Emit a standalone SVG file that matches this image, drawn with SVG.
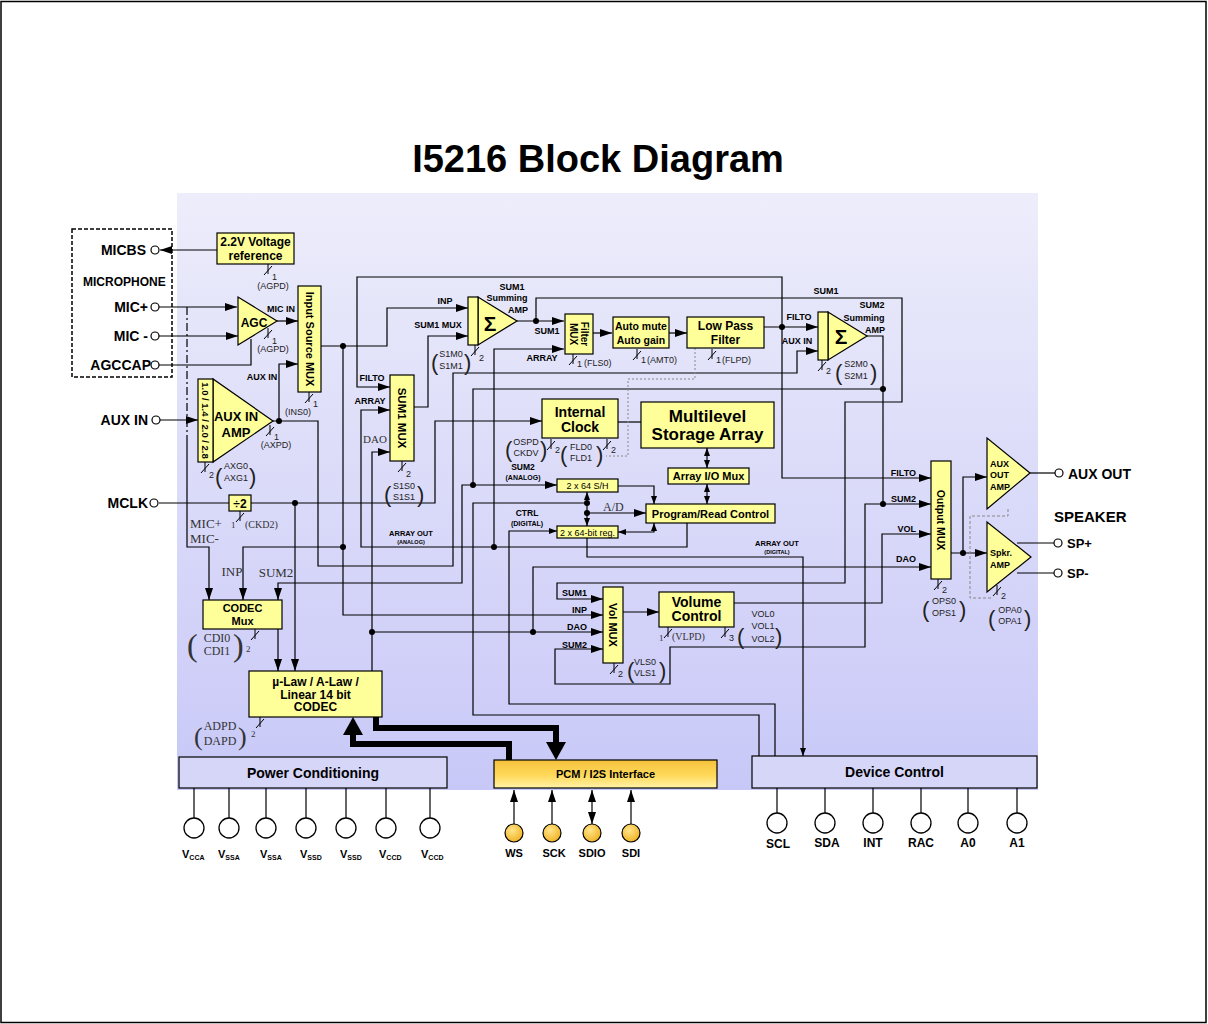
<svg xmlns="http://www.w3.org/2000/svg" width="1208" height="1024" viewBox="0 0 1208 1024">
<style>
.L{font-family:"Liberation Sans",Arial,sans-serif;font-weight:bold;fill:#000}
.n{font-family:"Liberation Sans",Arial,sans-serif;font-size:9px;fill:#222}
.p{font-family:"Liberation Sans",Arial,sans-serif;font-size:22px;fill:#222}
.sf{font-family:"Liberation Serif","Times New Roman",serif;fill:#333}
.box{fill:#ffff99;stroke:#000;stroke-width:1.2}
.w{fill:none;stroke:#000;stroke-width:1.2}
.pin{fill:#fff;stroke:#000;stroke-width:1.2}
.big{fill:#fff;stroke:#000;stroke-width:1.3}
</style>
<defs>
<linearGradient id="bg" x1="0" y1="0" x2="0" y2="1">
<stop offset="0" stop-color="#ededfb"/>
<stop offset="1" stop-color="#c8c8f8"/>
</linearGradient>
<linearGradient id="pcm" x1="0" y1="0" x2="0" y2="1">
<stop offset="0" stop-color="#f4c23c"/>
<stop offset="0.55" stop-color="#ffd95a"/>
<stop offset="1" stop-color="#fff2a8"/>
</linearGradient>
<radialGradient id="pg" cx="0.4" cy="0.35" r="0.7">
<stop offset="0" stop-color="#ffe58a"/>
<stop offset="1" stop-color="#f0b020"/>
</radialGradient>
<marker id="a" viewBox="0 0 12 8" refX="12" refY="4" markerWidth="12" markerHeight="8" markerUnits="userSpaceOnUse" orient="auto-start-reverse"><path d="M0,0L12,4L0,8z"/></marker>
<marker id="b" viewBox="0 0 8 6" refX="8" refY="3" markerWidth="8" markerHeight="6" markerUnits="userSpaceOnUse" orient="auto-start-reverse"><path d="M0,0L8,3L0,6z"/></marker>
<path id="bus" d="M0,-6V4M-4,5L4,-4" fill="none" stroke="#000" stroke-width="1"/>
</defs>

<rect x="0" y="0" width="1208" height="1024" fill="#fff"/>
<rect x="1" y="1.5" width="1205" height="1021" fill="none" stroke="#000" stroke-width="1.5"/>
<rect x="177" y="193" width="861" height="597" fill="url(#bg)"/>

<text class="L" x="598" y="172" font-size="38" text-anchor="middle">I5216 Block Diagram</text>

<g id="connectors">
<g class="w">
<path d="M217,250H160" marker-end="url(#a)"/>
<path d="M159,307H237" marker-end="url(#a)"/>
<path d="M159,336H238" marker-end="url(#a)"/>
<path d="M159,365H251V339"/>
<path d="M277,321H298" marker-end="url(#a)"/>
<path d="M160,420H198" marker-end="url(#a)"/>
<path d="M273,421H318V566H453V373H797V351H818" marker-end="url(#a)"/>
<path d="M279,421V364H298" marker-end="url(#a)"/>
<path d="M321,346H387V308H468" marker-end="url(#a)"/>
<path d="M343,346V615H603" marker-end="url(#a)"/>
<path d="M343,547H243V600" marker-end="url(#a)"/>
<path d="M187,307V440" stroke-dasharray="8,3,2,3"/>
<path d="M187,440V547H209V600" marker-end="url(#a)"/>
<path d="M414,407H428V336H468" marker-end="url(#a)"/>
<path d="M517,321H564" marker-end="url(#a)"/>
<path d="M536,321V298H902V402H845V583H557V599H603" marker-end="url(#a)"/>
<path d="M687,523V547H361V410H390" marker-end="url(#a)"/>
<path d="M494,547V349H564" marker-end="url(#a)"/>
<path d="M593,333H612" marker-end="url(#a)"/>
<path d="M669,333H687" marker-end="url(#a)"/>
<path d="M764,327H818" marker-end="url(#a)"/>
<path d="M782,327V277H357V387H390" marker-end="url(#a)"/>
<path d="M782,327V478H931" marker-end="url(#a)"/>
<path d="M867,336H883V504H931" marker-end="url(#a)"/>
<path d="M883,389H473V485H557" marker-end="url(#a)"/>
<path d="M473,485H462V583H278V600" marker-end="url(#a)"/>
<path d="M883,504H865V647H670V684H555V649H603" marker-end="url(#a)"/>
<path d="M159,503H229"/>
<path d="M251,503H435V421H542" marker-end="url(#a)"/>
<path d="M295,503V671" marker-end="url(#a)"/>
<path d="M278,629V671" marker-end="url(#a)"/>
<path d="M372,671V452H390" marker-end="url(#a)"/>
<path d="M372,632H603" marker-end="url(#a)"/>
<path d="M533,632V567H931" marker-end="url(#a)"/>
<path d="M618,422H641"/>
<path d="M707,448V468" marker-start="url(#b)" marker-end="url(#b)"/>
<path d="M707,484V504" marker-start="url(#b)" marker-end="url(#b)"/>
<path d="M618,486H654V504" marker-end="url(#b)"/>
<path d="M618,532H654V523" marker-start="url(#b)" marker-end="url(#b)"/>
<path d="M587,492V526" marker-start="url(#b)" marker-end="url(#b)"/>
<path d="M587,513H646" marker-end="url(#a)"/>
<path d="M587,503H473V715H759V756"/>
<path d="M775,756V704H509V531H557" marker-end="url(#b)"/>
<path d="M587,538V557H803V756" marker-end="url(#b)"/>
<path d="M734,603H882V534H931" marker-end="url(#a)"/>
<path d="M623,612H659" marker-end="url(#a)"/>
<path d="M951,553H987" marker-end="url(#a)"/>
<path d="M963,553V477H987" marker-end="url(#a)"/>
<path d="M1030,473H1055"/>
<path d="M1017,543H1054"/>
<path d="M1017,573H1054"/>
<path d="M514,824V790" marker-end="url(#a)"/>
<path d="M552,824V790" marker-end="url(#a)"/>
<path d="M592,824V790" marker-start="url(#a)" marker-end="url(#a)"/>
<path d="M631,824V790" marker-end="url(#a)"/>
<path d="M194,788V818M229,788V818M266,788V818M306,788V818M346,788V818M386,788V818M430,788V818"/>
<path d="M777,788V813M825,788V813M873,788V813M921,788V813M968,788V813M1017,788V813"/>
</g>
<path d="M1008,509V516H970V598H993" fill="none" stroke="#888" stroke-width="1" stroke-dasharray="3,2"/>
<path d="M695,348V379H628V456H606" fill="none" stroke="#888" stroke-width="1" stroke-dasharray="2,2"/>
<path d="M376,717V728H556V744M509,760V744H353V733" fill="none" stroke="#000" stroke-width="6"/>
<path d="M546,742L566,742L556,760z"/>
<path d="M343,735L363,735L353,717z"/>
<g fill="#000">
<circle cx="279" cy="421" r="3"/><circle cx="343" cy="346" r="3"/><circle cx="343" cy="547" r="3"/>
<circle cx="536" cy="321" r="3"/><circle cx="494" cy="547" r="3"/><circle cx="782" cy="327" r="3"/>
<circle cx="883" cy="389" r="3"/><circle cx="883" cy="504" r="3"/><circle cx="473" cy="485" r="3"/>
<circle cx="295" cy="503" r="3"/><circle cx="372" cy="632" r="3"/><circle cx="533" cy="632" r="3"/>
<circle cx="587" cy="503" r="3"/><circle cx="587" cy="513" r="3"/><circle cx="963" cy="553" r="3"/>
</g>
</g>

<g id="microphone">
<rect x="72" y="229" width="100" height="148" fill="none" stroke="#000" stroke-width="1.5" stroke-dasharray="4,2"/>
<text class="L" x="146" y="255" font-size="14" text-anchor="end">MICBS</text>
<text class="L" x="83" y="286" font-size="12">MICROPHONE</text>
<text class="L" x="148" y="312" font-size="14" text-anchor="end">MIC+</text>
<text class="L" x="148" y="341" font-size="14" text-anchor="end">MIC -</text>
<text class="L" x="151" y="370" font-size="14" text-anchor="end">AGCCAP</text>
<circle class="pin" cx="155" cy="250" r="4"/>
<circle class="pin" cx="155" cy="307" r="4"/>
<circle class="pin" cx="155" cy="336" r="4"/>
<circle class="pin" cx="155" cy="365" r="4"/>
</g>

<g id="auxin-pin">
<text class="L" x="148" y="425" font-size="14" text-anchor="end">AUX IN</text>
<circle class="pin" cx="156" cy="420" r="4"/>
</g>
<g id="mclk-pin">
<text class="L" x="148" y="508" font-size="14" text-anchor="end">MCLK</text>
<circle class="pin" cx="154" cy="503" r="4"/>
</g>

<g id="vref">
<rect class="box" x="217" y="233" width="77" height="31"/>
<text class="L" x="255.5" y="246" font-size="12" text-anchor="middle">2.2V Voltage</text>
<text class="L" x="255.5" y="260" font-size="12" text-anchor="middle">reference</text>
<use href="#bus" x="268" y="270"/>
<text class="n" x="272" y="280" font-size="8">1</text>
<text class="n" x="273" y="289" text-anchor="middle">(AGPD)</text>
</g>

<g id="agc">
<polygon class="box" points="238,297 238,345 277,321"/>
<text class="L" x="254" y="327" font-size="12" text-anchor="middle">AGC</text>
<text class="L" x="281" y="312" font-size="9" text-anchor="middle">MIC IN</text>
<use href="#bus" x="268" y="334"/>
<text class="n" x="272" y="344" font-size="8">1</text>
<text class="n" x="273" y="352" text-anchor="middle">(AGPD)</text>
</g>

<g id="input-source-mux">
<rect class="box" x="298" y="286" width="23" height="106"/>
<text class="L" font-size="11" text-anchor="middle" transform="translate(309.5,339) rotate(90)" y="4">Input Source MUX</text>
<text class="L" x="262" y="380" font-size="9" text-anchor="middle">AUX IN</text>
<use href="#bus" x="309" y="398"/>
<text class="n" x="313" y="407" font-size="8">1</text>
<text class="n" x="298" y="415" text-anchor="middle">(INS0)</text>
</g>

<g id="aux-in-amp">
<polygon class="box" points="213,379 213,462 273,421"/>
<rect class="box" x="198" y="379" width="15" height="83"/>
<text class="L" font-size="9.5" text-anchor="middle" transform="translate(205.5,420.5) rotate(90)" y="3.5">1.0 / 1.4 / 2.0 / 2.8</text>
<text class="L" x="236" y="421" font-size="13" text-anchor="middle">AUX IN</text>
<text class="L" x="236" y="437" font-size="13" text-anchor="middle">AMP</text>
<use href="#bus" x="270" y="431"/>
<text class="n" x="274" y="440" font-size="8">1</text>
<text class="n" x="276" y="448" text-anchor="middle">(AXPD)</text>
<use href="#bus" x="205" y="468"/>
<text class="n" x="209" y="478" font-size="8">2</text>
<text class="p" x="215" y="484">(</text>
<text class="n" x="224" y="469">AXG0</text>
<text class="n" x="224" y="481">AXG1</text>
<text class="p" x="249" y="484">)</text>
</g>

<g id="div2">
<rect class="box" x="229" y="495" width="22" height="16"/>
<text class="L" x="240" y="508" font-size="12" font-weight="normal" text-anchor="middle">÷2</text>
<use href="#bus" x="240" y="517"/>
<text class="sf" x="231" y="528" font-size="9">1</text>
<text class="sf" x="245" y="528" font-size="10">(CKD2)</text>
</g>

<g id="sum1-mux">
<rect class="box" x="390" y="375" width="24" height="86"/>
<text class="L" font-size="11.5" text-anchor="middle" transform="translate(402,418) rotate(90)" y="4">SUM1 MUX</text>
<text class="L" x="372" y="381" font-size="9" text-anchor="middle">FILTO</text>
<text class="L" x="370" y="404" font-size="9" text-anchor="middle">ARRAY</text>
<text class="sf" x="375" y="443" font-size="11" text-anchor="middle" fill="#555">DAO</text>
<use href="#bus" x="402" y="467"/>
<text class="n" x="406" y="477" font-size="8">2</text>
<text class="p" x="384" y="502">(</text>
<text class="n" x="404" y="489" text-anchor="middle">S1S0</text>
<text class="n" x="404" y="500" text-anchor="middle">S1S1</text>
<text class="p" x="417" y="502">)</text>
</g>

<g id="sum1-amp">
<polygon class="box" points="478,297 478,345 517,321"/>
<rect class="box" x="468" y="297" width="10" height="48"/>
<text class="L" x="490" y="331" font-size="21" text-anchor="middle">Σ</text>
<text class="L" x="512" y="290" font-size="9" text-anchor="middle">SUM1</text>
<text class="L" x="507" y="301" font-size="9" text-anchor="middle">Summing</text>
<text class="L" x="518" y="313" font-size="9" text-anchor="middle">AMP</text>
<text class="L" x="445" y="304" font-size="9" text-anchor="middle">INP</text>
<text class="L" x="438" y="328" font-size="9" text-anchor="middle">SUM1 MUX</text>
<use href="#bus" x="475" y="351"/>
<text class="n" x="479" y="361" font-size="8">2</text>
<text class="p" x="431" y="370">(</text>
<text class="n" x="451" y="357" text-anchor="middle">S1M0</text>
<text class="n" x="451" y="369" text-anchor="middle">S1M1</text>
<text class="p" x="464" y="370">)</text>
</g>

<g id="filter-mux">
<rect class="box" x="565" y="314" width="28" height="40"/>
<text class="L" font-size="10" text-anchor="middle" transform="translate(579,334) rotate(90)"><tspan x="0" y="-2">Filter</tspan><tspan x="0" y="9">MUX</tspan></text>
<text class="L" x="547" y="334" font-size="9" text-anchor="middle">SUM1</text>
<text class="L" x="542" y="361" font-size="9" text-anchor="middle">ARRAY</text>
<use href="#bus" x="573" y="360"/>
<text class="n" x="577" y="367" font-size="8">1</text>
<text class="n" x="584" y="366">(FLS0)</text>
</g>

<g id="auto-mute">
<rect class="box" x="613" y="317" width="56" height="31"/>
<text class="L" x="641" y="330" font-size="10.5" text-anchor="middle">Auto mute</text>
<text class="L" x="641" y="344" font-size="10.5" text-anchor="middle">Auto gain</text>
<use href="#bus" x="637" y="355"/>
<text class="n" x="641" y="363" font-size="8">1</text>
<text class="n" x="647" y="363">(AMT0)</text>
</g>

<g id="low-pass-filter">
<rect class="box" x="687" y="317" width="77" height="31"/>
<text class="L" x="725.5" y="330" font-size="12" text-anchor="middle">Low Pass</text>
<text class="L" x="725.5" y="344" font-size="12" text-anchor="middle">Filter</text>
<use href="#bus" x="712" y="355"/>
<text class="n" x="716" y="363" font-size="8">1</text>
<text class="n" x="722" y="363">(FLPD)</text>
</g>

<g id="sum2-amp">
<polygon class="box" points="828,312 828,360 867,336"/>
<rect class="box" x="818" y="312" width="10" height="48"/>
<text class="L" x="841" y="344" font-size="21" text-anchor="middle">Σ</text>
<text class="L" x="826" y="294" font-size="9" text-anchor="middle">SUM1</text>
<text class="L" x="872" y="308" font-size="9" text-anchor="middle">SUM2</text>
<text class="L" x="864" y="321" font-size="9" text-anchor="middle">Summing</text>
<text class="L" x="875" y="333" font-size="9" text-anchor="middle">AMP</text>
<text class="L" x="799" y="320" font-size="9" text-anchor="middle">FILTO</text>
<text class="L" x="797" y="344" font-size="9" text-anchor="middle">AUX IN</text>
<use href="#bus" x="822" y="366"/>
<text class="n" x="826" y="374" font-size="8">2</text>
<text class="p" x="835" y="380">(</text>
<text class="n" x="856" y="367" text-anchor="middle">S2M0</text>
<text class="n" x="856" y="379" text-anchor="middle">S2M1</text>
<text class="p" x="870" y="380">)</text>
</g>

<g id="internal-clock">
<rect class="box" x="542" y="399" width="76" height="39"/>
<text class="L" x="580" y="417" font-size="14" text-anchor="middle">Internal</text>
<text class="L" x="580" y="432" font-size="14" text-anchor="middle">Clock</text>
<use href="#bus" x="551" y="445"/>
<text class="n" x="555" y="453" font-size="8">2</text>
<text class="p" x="505" y="457">(</text>
<text class="n" x="526" y="445" text-anchor="middle">OSPD</text>
<text class="n" x="526" y="456" text-anchor="middle">CKDV</text>
<text class="p" x="540" y="457">)</text>
<use href="#bus" x="607" y="445"/>
<text class="n" x="611" y="453" font-size="8">2</text>
<text class="p" x="560" y="462">(</text>
<text class="n" x="581" y="450" text-anchor="middle">FLD0</text>
<text class="n" x="581" y="461" text-anchor="middle">FLD1</text>
<text class="p" x="596" y="462">)</text>
</g>

<g id="storage-array">
<rect class="box" x="641" y="402" width="133" height="46"/>
<text class="L" x="707.5" y="422" font-size="17" text-anchor="middle">Multilevel</text>
<text class="L" x="707.5" y="440" font-size="17" text-anchor="middle">Storage Array</text>
</g>

<g id="array-io-mux">
<rect class="box" x="668" y="468" width="81" height="16"/>
<text class="L" x="708.5" y="480" font-size="11" text-anchor="middle">Array I/O Mux</text>
</g>

<g id="sample-hold">
<rect class="box" x="557" y="479" width="61" height="13"/>
<text x="587.5" y="489" font-size="9" text-anchor="middle" font-family="Liberation Sans, Arial, sans-serif">2 x 64 S/H</text>
<text class="L" x="523" y="470" font-size="8.5" text-anchor="middle">SUM2</text>
<text class="L" x="523" y="480" font-size="7" text-anchor="middle">(ANALOG)</text>
</g>

<g id="register">
<rect class="box" x="557" y="526" width="61" height="12"/>
<text x="587.5" y="535.5" font-size="9" text-anchor="middle" font-family="Liberation Sans, Arial, sans-serif">2 x 64-bit reg.</text>
<text class="L" x="527" y="516" font-size="8.5" text-anchor="middle">CTRL</text>
<text class="L" x="527" y="526" font-size="7" text-anchor="middle">(DIGITAL)</text>
<text class="sf" x="603" y="511" font-size="12">A/D</text>
</g>

<g id="program-read-control">
<rect class="box" x="646" y="504" width="129" height="19"/>
<text class="L" x="710.5" y="518" font-size="11" text-anchor="middle">Program/Read Control</text>
</g>

<g id="array-out-labels">
<text class="L" x="411" y="536" font-size="7.5" text-anchor="middle">ARRAY OUT</text>
<text class="L" x="411" y="544" font-size="5.5" text-anchor="middle">(ANALOG)</text>
<text class="L" x="777" y="546" font-size="7.5" text-anchor="middle">ARRAY OUT</text>
<text class="L" x="777" y="554" font-size="5.5" text-anchor="middle">(DIGITAL)</text>
</g>

<g id="output-mux">
<rect class="box" x="931" y="461" width="20" height="118"/>
<text class="L" font-size="10.5" text-anchor="middle" transform="translate(941,520) rotate(90)" y="4">Output MUX</text>
<text class="L" x="916" y="476" font-size="9" text-anchor="end">FILTO</text>
<text class="L" x="916" y="502" font-size="9" text-anchor="end">SUM2</text>
<text class="L" x="916" y="532" font-size="9" text-anchor="end">VOL</text>
<text class="L" x="916" y="562" font-size="9" text-anchor="end">DAO</text>
<use href="#bus" x="938" y="585"/>
<text class="n" x="942" y="593" font-size="8">2</text>
<text class="p" x="922" y="617">(</text>
<text class="n" x="944" y="604" text-anchor="middle">OPS0</text>
<text class="n" x="944" y="616" text-anchor="middle">OPS1</text>
<text class="p" x="959" y="617">)</text>
</g>

<g id="aux-out-amp">
<polygon class="box" points="987,438 987,509 1030,473"/>
<text class="L" x="990" y="467" font-size="9">AUX</text>
<text class="L" x="990" y="478" font-size="9">OUT</text>
<text class="L" x="990" y="490" font-size="9">AMP</text>
<circle class="pin" cx="1059" cy="473" r="4"/>
<text class="L" x="1068" y="479" font-size="14">AUX OUT</text>
</g>

<g id="speaker-amp">
<polygon class="box" points="987,522 987,592 1031,557"/>
<text class="L" x="990" y="556" font-size="9">Spkr.</text>
<text class="L" x="990" y="568" font-size="9">AMP</text>
<use href="#bus" x="997" y="591"/>
<text class="n" x="1001" y="599" font-size="8">2</text>
<text class="p" x="988" y="626">(</text>
<text class="n" x="1010" y="613" text-anchor="middle">OPA0</text>
<text class="n" x="1010" y="624" text-anchor="middle">OPA1</text>
<text class="p" x="1024" y="626">)</text>
<text class="L" x="1054" y="522" font-size="15">SPEAKER</text>
<circle class="pin" cx="1058" cy="543" r="4"/>
<circle class="pin" cx="1058" cy="573" r="4"/>
<text class="L" x="1067" y="548" font-size="13">SP+</text>
<text class="L" x="1067" y="578" font-size="13">SP-</text>
</g>

<g id="vol-mux">
<rect class="box" x="603" y="587" width="20" height="76"/>
<text class="L" font-size="11" text-anchor="middle" transform="translate(613,625) rotate(90)" y="4">Vol MUX</text>
<text class="L" x="587" y="596" font-size="9" text-anchor="end">SUM1</text>
<text class="L" x="587" y="613" font-size="9" text-anchor="end">INP</text>
<text class="L" x="587" y="630" font-size="9" text-anchor="end">DAO</text>
<text class="L" x="587" y="648" font-size="9" text-anchor="end">SUM2</text>
<use href="#bus" x="614" y="669"/>
<text class="n" x="618" y="677" font-size="8">2</text>
<text class="p" x="627" y="678">(</text>
<text class="n" x="645" y="665" text-anchor="middle">VLS0</text>
<text class="n" x="645" y="676" text-anchor="middle">VLS1</text>
<text class="p" x="659" y="678">)</text>
</g>

<g id="volume-control">
<rect class="box" x="659" y="592" width="75" height="35"/>
<text class="L" x="696.5" y="607" font-size="14" text-anchor="middle">Volume</text>
<text class="L" x="696.5" y="621" font-size="14" text-anchor="middle">Control</text>
<use href="#bus" x="668" y="633"/>
<text class="sf" x="659" y="641" font-size="9">1</text>
<text class="sf" x="672" y="640" font-size="10">(VLPD)</text>
<use href="#bus" x="725" y="633"/>
<text class="n" x="729" y="641" font-size="8">3</text>
<text class="p" x="737" y="644" font-size="42">(</text>
<text class="n" x="763" y="617" font-size="10" text-anchor="middle">VOL0</text>
<text class="n" x="763" y="629" font-size="10" text-anchor="middle">VOL1</text>
<text class="n" x="763" y="642" font-size="10" text-anchor="middle">VOL2</text>
<text class="p" x="775" y="644" font-size="42">)</text>
</g>

<g id="codec-mux">
<rect class="box" x="203" y="600" width="79" height="29"/>
<text class="L" x="242.5" y="612" font-size="11" text-anchor="middle">CODEC</text>
<text class="L" x="242.5" y="625" font-size="11" text-anchor="middle">Mux</text>
<text class="sf" x="190" y="528" font-size="13">MIC+</text>
<text class="sf" x="190" y="543" font-size="13">MIC-</text>
<text class="sf" x="232" y="576" font-size="13" text-anchor="middle">INP</text>
<text class="sf" x="276" y="577" font-size="13" text-anchor="middle">SUM2</text>
<use href="#bus" x="255" y="635"/>
<text class="sf" x="246" y="652" font-size="9">2</text>
<text class="sf" x="187" y="656" font-size="32">(</text>
<text class="sf" x="217" y="642" font-size="12" text-anchor="middle">CDI0</text>
<text class="sf" x="217" y="655" font-size="12" text-anchor="middle">CDI1</text>
<text class="sf" x="233" y="656" font-size="32">)</text>
</g>

<g id="codec">
<rect class="box" x="249" y="671" width="133" height="46"/>
<text class="L" x="315.5" y="686" font-size="12" text-anchor="middle">µ-Law / A-Law /</text>
<text class="L" x="315.5" y="699" font-size="12" text-anchor="middle">Linear 14 bit</text>
<text class="L" x="315.5" y="711" font-size="12" text-anchor="middle">CODEC</text>
<use href="#bus" x="260" y="723"/>
<text class="sf" x="251" y="737" font-size="9">2</text>
<text class="sf" x="194" y="745" font-size="26">(</text>
<text class="sf" x="220" y="730" font-size="12" text-anchor="middle">ADPD</text>
<text class="sf" x="220" y="745" font-size="12" text-anchor="middle">DAPD</text>
<text class="sf" x="238" y="745" font-size="26">)</text>
</g>

<g id="power-conditioning">
<rect x="179" y="757" width="268" height="31" fill="#d6d6f8" stroke="#000" stroke-width="1.2"/>
<text class="L" x="313" y="778" font-size="14" text-anchor="middle">Power Conditioning</text>
<circle class="big" cx="194" cy="828" r="10"/>
<circle class="big" cx="229" cy="828" r="10"/>
<circle class="big" cx="266" cy="828" r="10"/>
<circle class="big" cx="306" cy="828" r="10"/>
<circle class="big" cx="346" cy="828" r="10"/>
<circle class="big" cx="386" cy="828" r="10"/>
<circle class="big" cx="430" cy="828" r="10"/>
<text class="L" x="182" y="858" font-size="11">V<tspan font-size="7" dy="2">CCA</tspan></text>
<text class="L" x="218" y="858" font-size="11">V<tspan font-size="7" dy="2">SSA</tspan></text>
<text class="L" x="260" y="858" font-size="11">V<tspan font-size="7" dy="2">SSA</tspan></text>
<text class="L" x="300" y="858" font-size="11">V<tspan font-size="7" dy="2">SSD</tspan></text>
<text class="L" x="340" y="858" font-size="11">V<tspan font-size="7" dy="2">SSD</tspan></text>
<text class="L" x="379" y="858" font-size="11">V<tspan font-size="7" dy="2">CCD</tspan></text>
<text class="L" x="421" y="858" font-size="11">V<tspan font-size="7" dy="2">CCD</tspan></text>
</g>

<g id="pcm-interface">
<rect x="494" y="760" width="223" height="28" fill="url(#pcm)" stroke="#000" stroke-width="1.2"/>
<text class="L" x="605.5" y="778" font-size="11" text-anchor="middle">PCM / I2S Interface</text>
<circle cx="514" cy="833" r="9" fill="url(#pg)" stroke="#000" stroke-width="1.2"/>
<circle cx="552" cy="833" r="9" fill="url(#pg)" stroke="#000" stroke-width="1.2"/>
<circle cx="592" cy="833" r="9" fill="url(#pg)" stroke="#000" stroke-width="1.2"/>
<circle cx="631" cy="833" r="9" fill="url(#pg)" stroke="#000" stroke-width="1.2"/>
<text class="L" x="514" y="857" font-size="11" text-anchor="middle">WS</text>
<text class="L" x="554" y="857" font-size="11" text-anchor="middle">SCK</text>
<text class="L" x="592" y="857" font-size="11" text-anchor="middle">SDIO</text>
<text class="L" x="631" y="857" font-size="11" text-anchor="middle">SDI</text>
</g>

<g id="device-control">
<rect x="752" y="756" width="285" height="32" fill="#d6d6f8" stroke="#000" stroke-width="1.2"/>
<text class="L" x="894.5" y="777" font-size="14" text-anchor="middle">Device Control</text>
<circle class="big" cx="777" cy="823" r="10"/>
<circle class="big" cx="825" cy="823" r="10"/>
<circle class="big" cx="873" cy="823" r="10"/>
<circle class="big" cx="921" cy="823" r="10"/>
<circle class="big" cx="968" cy="823" r="10"/>
<circle class="big" cx="1017" cy="823" r="10"/>
<text class="L" x="778" y="848" font-size="12" text-anchor="middle">SCL</text>
<text class="L" x="827" y="847" font-size="12" text-anchor="middle">SDA</text>
<text class="L" x="873" y="847" font-size="12" text-anchor="middle">INT</text>
<text class="L" x="921" y="847" font-size="12" text-anchor="middle">RAC</text>
<text class="L" x="968" y="847" font-size="12" text-anchor="middle">A0</text>
<text class="L" x="1017" y="847" font-size="12" text-anchor="middle">A1</text>
</g>
</svg>
